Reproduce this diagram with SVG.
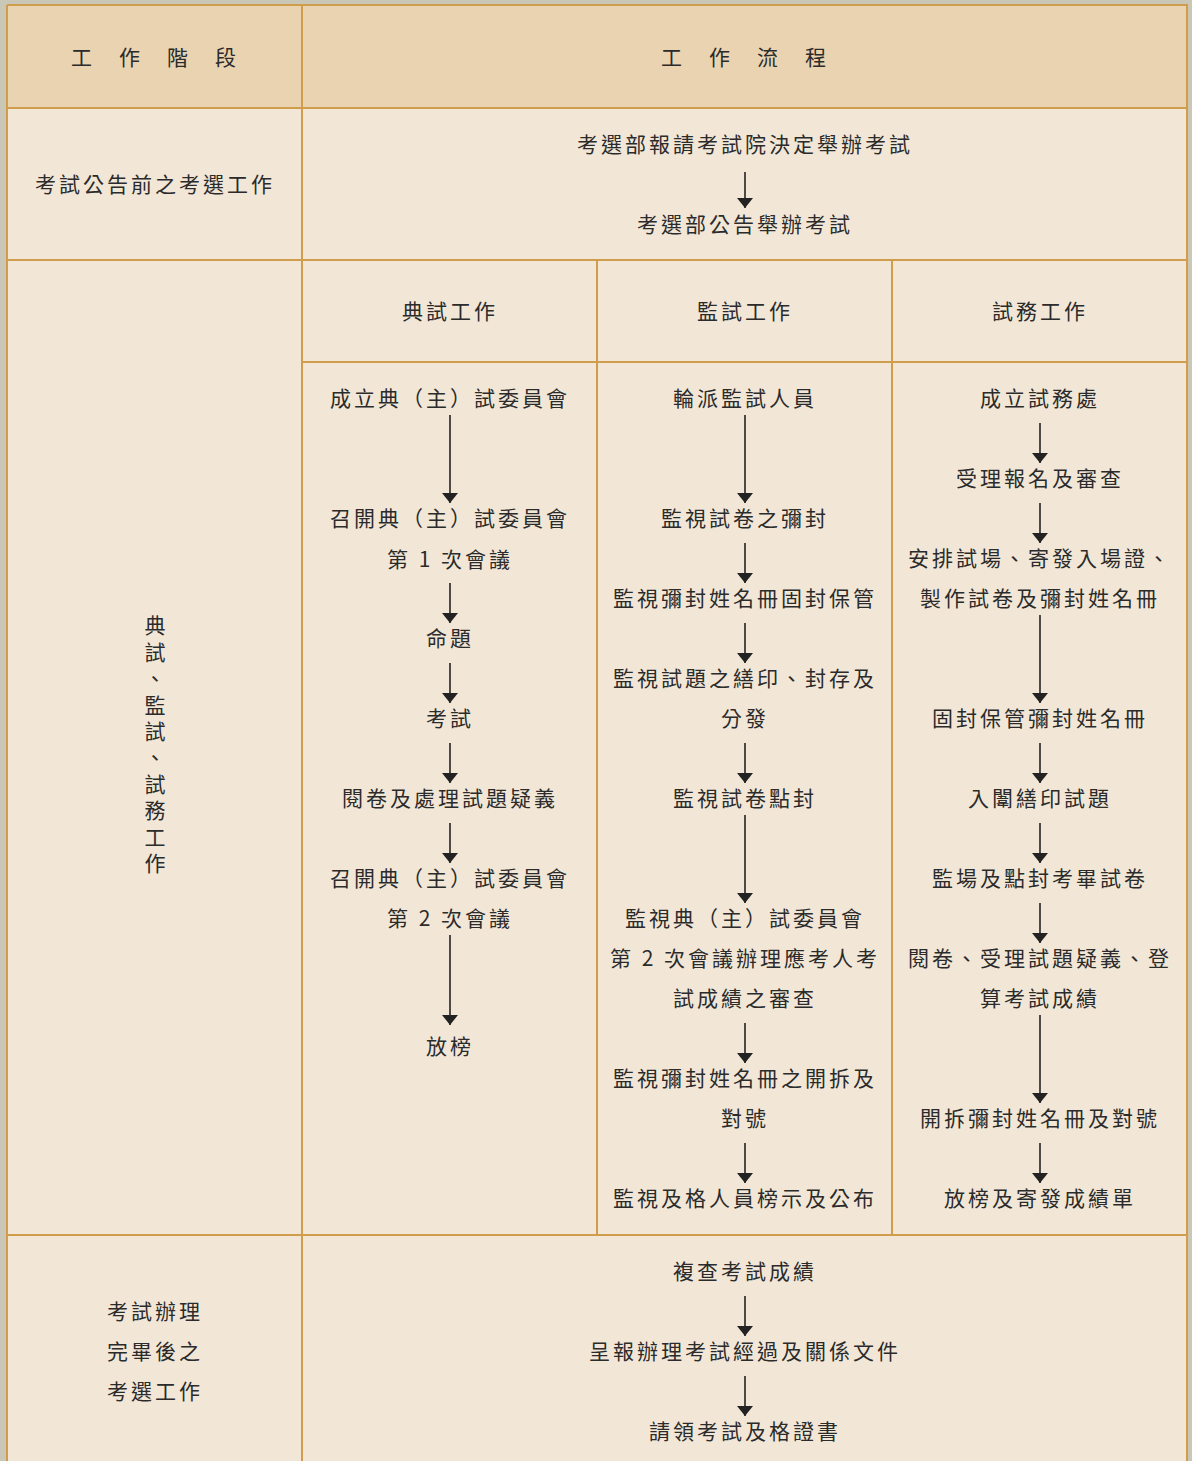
<svg xmlns="http://www.w3.org/2000/svg" width="1192" height="1461" viewBox="0 0 1192 1461">
<style>
text{font-family:"Noto Sans CJK TC","Noto Sans CJK SC",sans-serif;font-size:21px;fill:#2b2b2b;text-anchor:middle;dominant-baseline:central;letter-spacing:3px}
.vert{writing-mode:vertical-rl;letter-spacing:5.4px}
.grid{stroke:#cf9d4c;stroke-width:2;fill:none}
.arr{stroke:#222;stroke-width:1.6;fill:none;marker-end:url(#ah)}
</style>
<defs>
<marker id="ah" viewBox="0 0 10 16" refX="10" refY="8" markerWidth="10" markerHeight="16" markerUnits="userSpaceOnUse" orient="auto">
<path d="M0,0 L10,8 L0,16 Z" fill="#222"/>
</marker>
</defs>
<rect width="1192" height="1461" fill="#cac7b7"/>
<g id="table">
<rect x="7" y="5" width="1180" height="103" fill="#e9d3b0"/>
<rect x="7" y="108" width="1180" height="1360" fill="#f2e7d7"/>
<path class="grid" d="M7,5 H1187 V1470 M7,5 V1470 M7,108 H1187 M7,260 H1187 M302,362 H1187 M7,1235 H1187 M302,5 V1470 M597,260 V1235 M892,260 V1235"/>
</g>
<g id="header" transform="translate(0,-2)">
<text x="83 131 179 227" y="58">工作階段</text>
<text x="673 721 769 817" y="58">工作流程</text>
</g>
<g id="stage1" transform="translate(0,-2)"><text x="155" y="185">考試公告前之考選工作</text></g>
<g id="stage2">
<text class="vert" x="155" y="747">典試、監試、試務工作</text>
</g>
<g id="stage3" transform="translate(0,-2)">
<text x="155" y="1312">考試辦理</text><text x="155" y="1352">完畢後之</text><text x="155" y="1392">考選工作</text>
</g>
<g id="sub-headers" transform="translate(0,-2)">
<text x="450" y="312">典試工作</text><text x="745" y="312">監試工作</text><text x="1040" y="312">試務工作</text>
</g>
<g id="row1-nodes" transform="translate(0,-2)">
<text x="745" y="145">考選部報請考試院決定舉辦考試</text>
<text x="745" y="225">考選部公告舉辦考試</text>
</g>
<g id="colA-nodes" transform="translate(0,-2)">
<text x="450" y="399">成立典（主）試委員會</text>
<text x="450" y="519">召開典（主）試委員會</text>
<text x="450" y="560">第 1 次會議</text>
<text x="450" y="639">命題</text>
<text x="450" y="719">考試</text>
<text x="450" y="799">閱卷及處理試題疑義</text>
<text x="450" y="879">召開典（主）試委員會</text>
<text x="450" y="919">第 2 次會議</text>
<text x="450" y="1047">放榜</text>
</g>
<g id="colB-nodes" transform="translate(0,-2)">
<text x="745" y="399">輪派監試人員</text>
<text x="745" y="519">監視試卷之彌封</text>
<text x="745" y="599">監視彌封姓名冊固封保管</text>
<text x="745" y="679">監視試題之繕印、封存及</text>
<text x="745" y="719">分發</text>
<text x="745" y="799">監視試卷點封</text>
<text x="745" y="919">監視典（主）試委員會</text>
<text x="745" y="959">第 2 次會議辦理應考人考</text>
<text x="745" y="999">試成績之審查</text>
<text x="745" y="1079">監視彌封姓名冊之開拆及</text>
<text x="745" y="1119">對號</text>
<text x="745" y="1199">監視及格人員榜示及公布</text>
</g>
<g id="colC-nodes" transform="translate(0,-2)">
<text x="1040" y="399">成立試務處</text>
<text x="1040" y="479">受理報名及審查</text>
<text x="1040" y="559">安排試場、寄發入場證、</text>
<text x="1040" y="599">製作試卷及彌封姓名冊</text>
<text x="1040" y="719">固封保管彌封姓名冊</text>
<text x="1040" y="799">入闈繕印試題</text>
<text x="1040" y="879">監場及點封考畢試卷</text>
<text x="1040" y="959">閱卷、受理試題疑義、登</text>
<text x="1040" y="999">算考試成績</text>
<text x="1040" y="1119">開拆彌封姓名冊及對號</text>
<text x="1040" y="1199">放榜及寄發成績單</text>
</g>
<g id="row3-nodes" transform="translate(0,-2)">
<text x="745" y="1272">複查考試成績</text>
<text x="745" y="1352">呈報辦理考試經過及關係文件</text>
<text x="745" y="1432">請領考試及格證書</text>
</g>
<g id="connectors">
<path class="arr" d="M745,172 V208"/>
<path class="arr" d="M450,415 V503"/>
<path class="arr" d="M450,583 V623"/>
<path class="arr" d="M450,663 V703"/>
<path class="arr" d="M450,743 V783"/>
<path class="arr" d="M450,823 V863"/>
<path class="arr" d="M450,935 V1025"/>
<path class="arr" d="M745,415 V503"/>
<path class="arr" d="M745,543 V583"/>
<path class="arr" d="M745,623 V663"/>
<path class="arr" d="M745,743 V783"/>
<path class="arr" d="M745,815 V903"/>
<path class="arr" d="M745,1023 V1063"/>
<path class="arr" d="M745,1143 V1183"/>
<path class="arr" d="M1040,423 V463"/>
<path class="arr" d="M1040,503 V543"/>
<path class="arr" d="M1040,615 V703"/>
<path class="arr" d="M1040,743 V783"/>
<path class="arr" d="M1040,823 V863"/>
<path class="arr" d="M1040,903 V943"/>
<path class="arr" d="M1040,1015 V1103"/>
<path class="arr" d="M1040,1143 V1183"/>
<path class="arr" d="M745,1296 V1336"/>
<path class="arr" d="M745,1376 V1416"/>
</g>
</svg>
